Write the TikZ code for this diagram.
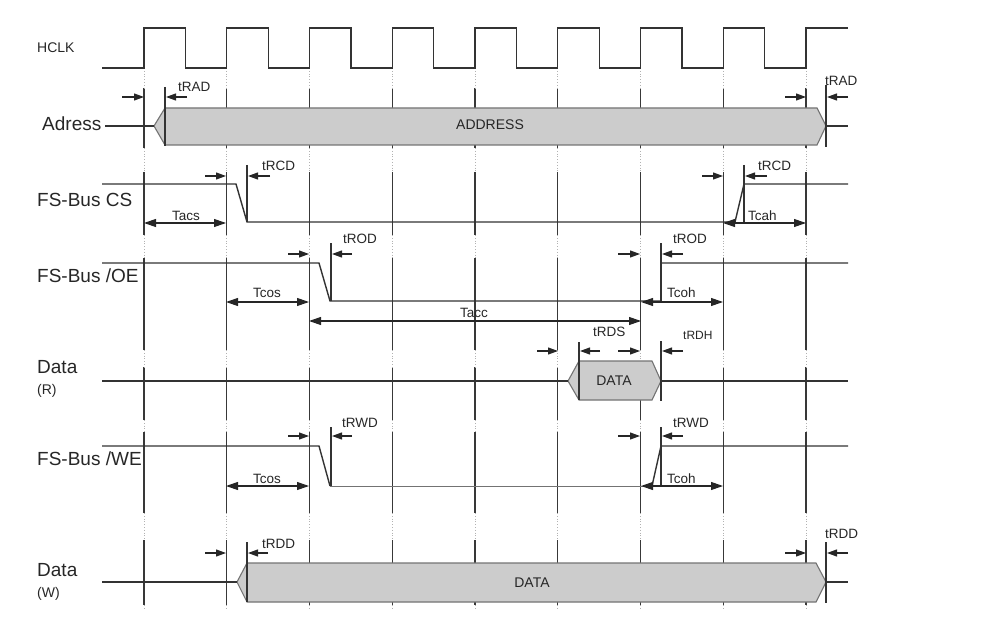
\documentclass[tikz,border=0pt]{standalone}
\usepackage{fontspec}
\setmainfont{Liberation Sans}
\usetikzlibrary{arrows.meta}

\tikzset{
  sig/.style={draw=black!80, line width=1.4pt},
  gridline/.style={draw=black!78, line width=1.3pt},
  gap/.style={draw=black!30, line width=0.8pt, dotted},
  bus/.style={fill=black!20, draw=black!55, line width=1.1pt},
  mark line/.style={draw=black!80, line width=1.4pt},
  dly/.style={-{Triangle[length=10pt,width=7pt]}, line width=1.1pt, draw=black!85},
  span/.style={{Triangle[length=12pt,width=8pt]}-{Triangle[length=12pt,width=8pt]}, line width=1.1pt, draw=black!85},
  lbl/.style={anchor=base west, inner sep=0pt, font=\fontsize{19}{22}\selectfont, text=black!85},
  sublbl/.style={anchor=base west, inner sep=0pt, font=\fontsize{14}{16}\selectfont, text=black!85},
  tlbl/.style={anchor=base west, inner sep=0pt, font=\fontsize{13.5}{16}\selectfont, text=black!85},
}

\begin{document}
\begin{tikzpicture}[x=1pt, y=-1pt]
  \useasboundingbox (0,0) rectangle (982,631);

  % clock edges and grid
  \foreach \k in {0,...,8} {
    \pgfmathsetmacro\ex{144+82.75*\k}
    \foreach \a/\b in {88/148,172/235,258/350,367/420,432/513,540/605}
      \draw[gridline] (\ex,\a) -- (\ex,\b);
    \foreach \a/\b in {68/88,148/172,235/258,350/367,420/432,513/540,605/610}
      \draw[gap] (\ex,\a) -- (\ex,\b);
  }
  \draw[sig] (102,68) foreach \k in {0,...,7} {
      -- ({144+82.75*\k},68) -- ({144+82.75*\k},28)
      -- ({185.5+82.75*\k},28) -- ({185.5+82.75*\k},68) }
    -- (806,68) -- (806,28) -- (848,28);

  % busses
  \draw[bus] (154,126) -- (165,108) -- (817,108) -- (826,126) -- (817,145) -- (165,145) -- cycle;
  \draw[bus] (568,381) -- (579,361) -- (652,361) -- (661,381) -- (652,400) -- (579,400) -- cycle;
  \draw[bus] (237,582) -- (247,563) -- (816,563) -- (826,582) -- (816,602) -- (247,602) -- cycle;

  % delay marks
  \draw[mark line]
    (165,87) -- (165,146)  (826,85) -- (826,147)
    (247,165) -- (247,222) (744,165) -- (744,222)
    (331,243) -- (331,301) (661,243) -- (661,301)
    (579,342) -- (579,400) (661,341) -- (661,401)
    (331,427) -- (331,486) (661,427) -- (661,486)
    (247,542) -- (247,602) (826,542) -- (826,603);

  % signals
  \draw[sig] (105,126) -- (154,126) (826,126) -- (848,126);
  \draw[sig] (102,184) -- (236,184) -- (247,222) -- (735,222) -- (744,184) -- (848,184);
  \draw[sig] (102,263) -- (319,263) -- (330,301) -- (661,301) -- (661,263) -- (848,263);
  \draw[sig] (102,381) -- (568,381) (661,381) -- (848,381);
  \draw[sig] (102,446) -- (319,446) -- (330,486);
  \draw[draw=black!55, line width=1pt] (330,486) -- (652,486);
  \draw[sig] (652,486) -- (661,446) -- (848,446);
  \draw[sig] (102,582) -- (237,582) (826,582) -- (848,582);

  % delay arrows
  \draw[dly] (122,97) -- (144,97);  \draw[dly] (187,97) -- (166,97);
  \draw[dly] (785,97) -- (806,97);  \draw[dly] (848,97) -- (827,97);
  \draw[dly] (205,176) -- (226,176); \draw[dly] (270,176) -- (248,176);
  \draw[dly] (702,176) -- (723,176); \draw[dly] (767,176) -- (745,176);
  \draw[dly] (288,254) -- (309,254); \draw[dly] (352,254) -- (332,254);
  \draw[dly] (618,254) -- (640,254); \draw[dly] (683,254) -- (662,254);
  \draw[dly] (537,351) -- (558,351); \draw[dly] (600,351) -- (580,351);
  \draw[dly] (618,351) -- (640,351); \draw[dly] (683,351) -- (662,351);
  \draw[dly] (288,436) -- (309,436); \draw[dly] (352,436) -- (332,436);
  \draw[dly] (618,436) -- (640,436); \draw[dly] (683,436) -- (662,436);
  \draw[dly] (205,553) -- (226,553); \draw[dly] (268,553) -- (248,553);
  \draw[dly] (785,553) -- (806,553); \draw[dly] (848,553) -- (827,553);

  % spans
  \draw[span] (144,223) -- (226,223);
  \draw[span] (723,223) -- (806,223);
  \draw[span] (226,302) -- (309,302);
  \draw[span] (641,302) -- (723,302);
  \draw[span] (309,321) -- (641,321);
  \draw[span] (226,486) -- (309,486);
  \draw[span] (641,486) -- (723,486);

  % row labels
  \node[sublbl] (hclk) at (37,53) {HCLK};
  \node[lbl] (adrs) at (42,131) {Adress};
  \node[lbl] (cs) at (37,207) {FS-Bus CS};
  \node[lbl] (oe) at (37,282) {FS-Bus /OE};
  \node[lbl] (datr) at (37,373) {Data};
  \node[sublbl] (datrr) at (37,394) {(R)};
  \node[lbl] (we) at (37,465) {FS-Bus /WE};
  \node[lbl] (datw) at (37,576) {Data};
  \node[sublbl] (datww) at (37,597) {(W)};

  % bus texts
  \node[sublbl, anchor=base] (addr) at (490,130) {ADDRESS};
  \node[sublbl, anchor=base] (datar) at (614,385) {DATA};
  \node[sublbl, anchor=base] (dataw) at (532,587) {DATA};

  % timing labels
  \node[tlbl] (tradA) at (178,92) {tRAD};
  \node[tlbl] (tradB) at (825,86) {tRAD};
  \node[tlbl] (trcdA) at (262,171) {tRCD};
  \node[tlbl] (trcdB) at (758,171) {tRCD};
  \node[tlbl] (tacs) at (172,220) {Tacs};
  \node[tlbl] (tcah) at (748,220) {Tcah};
  \node[tlbl] (trodA) at (343,243) {tROD};
  \node[tlbl] (trodB) at (673,243) {tROD};
  \node[tlbl] (tcosA) at (253,297) {Tcos};
  \node[tlbl] (tcohA) at (667,297) {Tcoh};
  \node[tlbl] (tacc) at (460,317) {Tacc};
  \node[tlbl] (trds) at (593,336) {tRDS};
  \node[tlbl, font=\fontsize{12}{14}\selectfont] (trdh) at (683,339) {tRDH};
  \node[tlbl] (trwdA) at (342,427) {tRWD};
  \node[tlbl] (trwdB) at (673,427) {tRWD};
  \node[tlbl] (tcosB) at (253,483) {Tcos};
  \node[tlbl] (tcohB) at (667,483) {Tcoh};
  \node[tlbl] (trddA) at (262,548) {tRDD};
  \node[tlbl] (trddB) at (825,538) {tRDD};
\end{tikzpicture}
\end{document}
